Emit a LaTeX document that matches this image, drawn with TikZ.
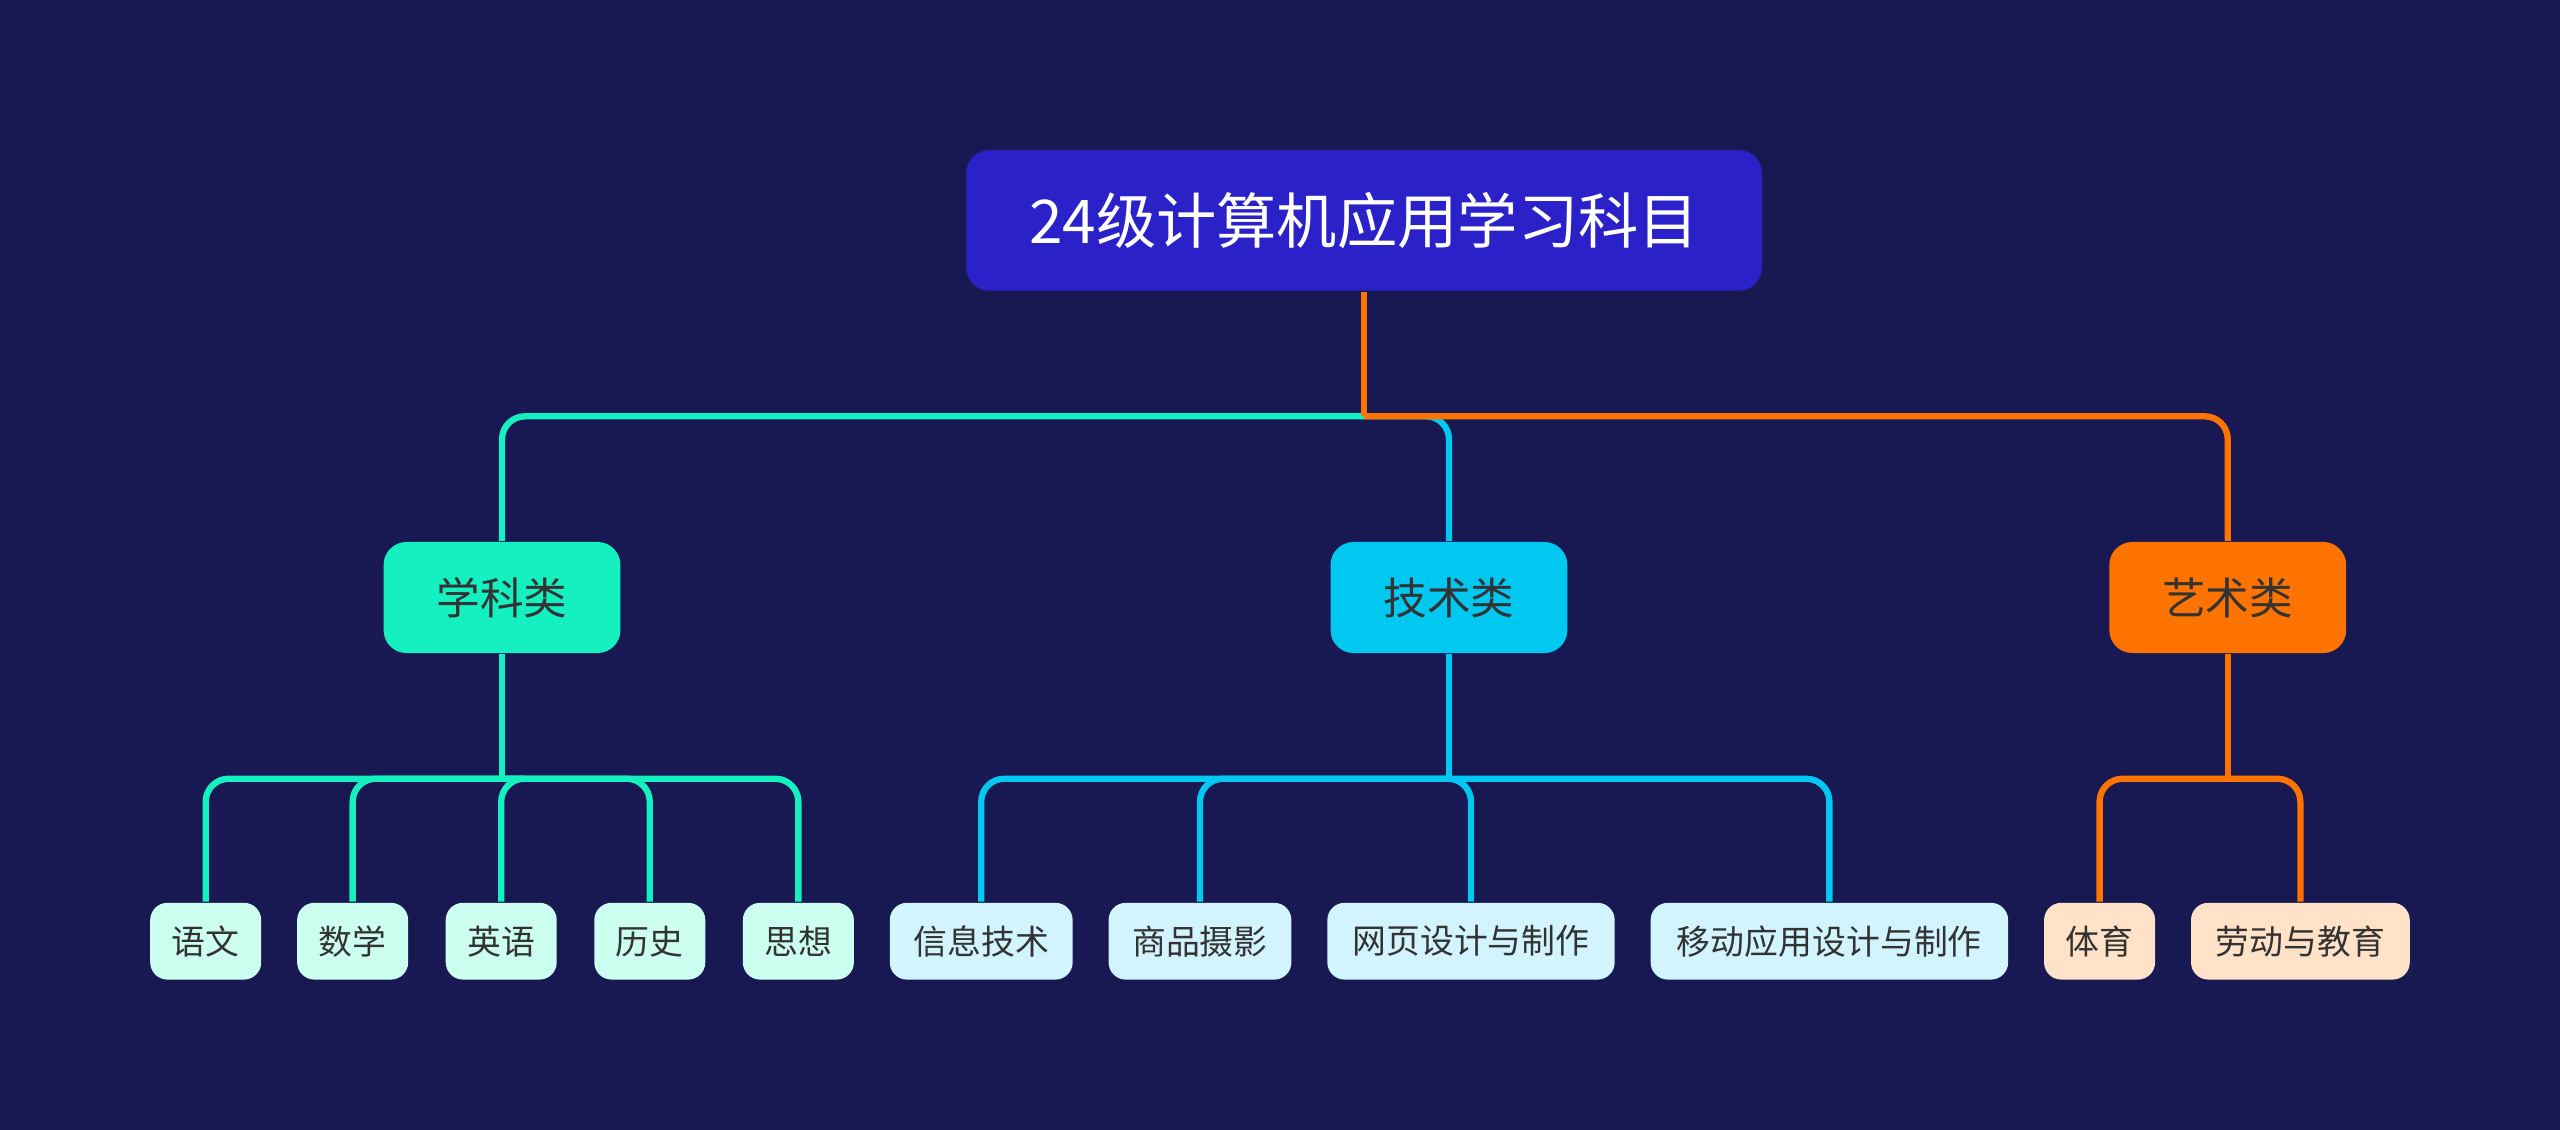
\documentclass[tikz,border=0pt]{standalone}
\usepackage{fontspec}
\setmainfont{Noto Sans CJK SC}
\definecolor{bg}{HTML}{181852}
\definecolor{rootc}{HTML}{2A22C8}
\definecolor{cA}{HTML}{14F0C0}
\definecolor{cB}{HTML}{00C8F0}
\definecolor{cC}{HTML}{FF7300}
\definecolor{lA}{HTML}{CCFFF0}
\definecolor{lB}{HTML}{D2F4FF}
\definecolor{lC}{HTML}{FFE2C8}
\begin{document}
\begin{tikzpicture}[x=0.01cm,y=-0.01cm,
  rootbox/.style={fill=rootc,rounded corners=4pt,text=white,font=\fontsize{10.5pt}{12pt}\selectfont,minimum width=4.87cm,minimum height=0.86cm,inner sep=0pt},
  midbox/.style={rounded corners=4pt,text=black!80,font=\fontsize{7.6pt}{9pt}\selectfont,minimum width=1.45cm,minimum height=0.68cm,inner sep=0pt},
  leaf/.style={rounded corners=3pt,text=black!80,font=\fontsize{5.9pt}{7pt}\selectfont,minimum height=0.47cm,inner sep=0pt},
  edge/.style={line width=1.1pt,rounded corners=4pt}]
\fill[bg] (0,0) rectangle (1568,692);
\node[rootbox] (root) at (835.5,135) {24级计算机应用学习科目};
\node[midbox,fill=cA] (A) at (307.5,366) {学科类};
\node[midbox,fill=cB] (B) at (887.5,366) {技术类};
\node[midbox,fill=cC] (C) at (1364.5,366) {艺术类};
\foreach \n/\t/\a/\b/\f in {a1/语文/92/160/lA,a2/数学/182/250/lA,a3/英语/273/341/lA,a4/历史/364/432/lA,a5/思想/455/523/lA,
  b1/信息技术/545/657/lB,b2/商品摄影/679/791/lB,b3/网页设计与制作/813/989/lB,b4/移动应用设计与制作/1011/1230/lB,
  c1/体育/1252/1320/lC,c2/劳动与教育/1342/1476/lC}
  \node[leaf,fill=\f,minimum width={(\b-\a)*0.01cm}] (\n) at ({(\a+\b)/2},576.5) {\t};
\coordinate (j0) at (root.south |- 0,255);
\foreach \p/\c in {A/cA,B/cB,C/cC}
  \draw[edge,\c] (j0) -| (\p.north);
\draw[line width=1.1pt,cC] (root.south) -- (j0);
\foreach \p/\c/\l in {A/cA/{a1,a2,a3,a4,a5},B/cB/{b1,b2,b3,b4},C/cC/{c1,c2}}{
  \coordinate (j\p) at (\p.south |- 0,477);
  \foreach \k in \l
    \draw[edge,\c] (j\p) -| (\k.north);
  \draw[line width=1.1pt,\c] (\p.south) -- (j\p);
}
\end{tikzpicture}
\end{document}
